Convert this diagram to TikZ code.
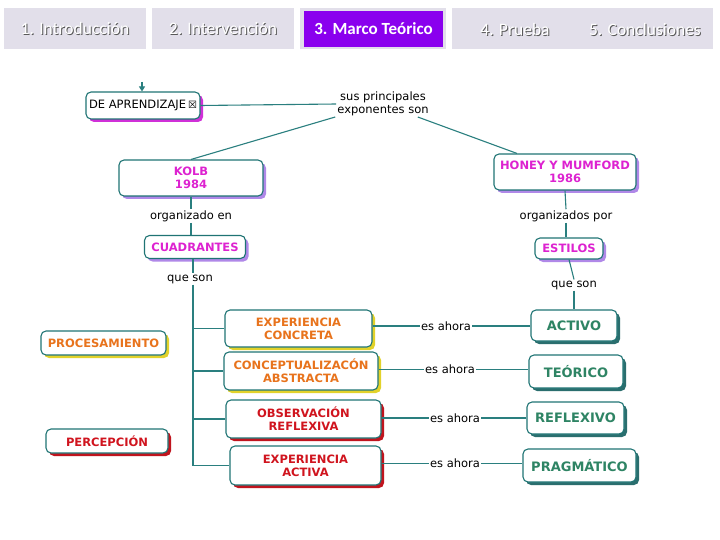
\documentclass[tikz,border=0pt]{standalone}
\usepackage{fontspec}
\setmainfont{DejaVu Sans}
\newfontfamily\tabfont{Carlito}
\usetikzlibrary{shadows,arrows.meta,calc}
\definecolor{tealb}{HTML}{1F7474}
\definecolor{teall}{HTML}{2A7F7F}
\definecolor{mag}{HTML}{DD22D0}
\definecolor{orng}{HTML}{E8731C}
\definecolor{redt}{HTML}{D0141E}
\definecolor{grnt}{HTML}{2E8464}
\definecolor{shmag}{HTML}{D030D8}
\definecolor{shlav}{HTML}{B088E8}
\definecolor{shyel}{HTML}{E2D22A}
\definecolor{shred}{HTML}{C0141E}
\definecolor{shteal}{HTML}{2A6E6E}
\definecolor{tabbg}{HTML}{E2DFEA}
\definecolor{tabpur}{HTML}{8A00EE}
\tikzset{
  box/.style={draw=tealb, line width=1.1pt, rounded corners=5pt, fill=white,
    align=center, font=\fontsize{11.5}{13}\selectfont\bfseries, inner sep=2pt},
  shm/.style={drop shadow={fill=shmag, opacity=1, shadow xshift=3pt, shadow yshift=-3pt}},
  shl/.style={drop shadow={fill=shlav, opacity=1, shadow xshift=3pt, shadow yshift=-3pt}},
  shy/.style={drop shadow={fill=shyel, opacity=1, shadow xshift=3pt, shadow yshift=-3pt}},
  shr/.style={drop shadow={fill=shred, opacity=1, shadow xshift=3pt, shadow yshift=-3pt}},
  sht/.style={drop shadow={fill=shteal, opacity=1, shadow xshift=3pt, shadow yshift=-3pt}},
  grn/.style={text=grnt, font=\fontsize{13}{15}\selectfont\bfseries},
  lbl/.style={align=center, inner sep=1pt, font=\fontsize{11.5}{12.5}\selectfont, text=black},
  conn/.style={draw=teall, line width=1.1pt},
  tabbox/.style={fill=tabbg, draw=none, inner sep=0pt},
  tabtxt/.style={font=\tabfont\fontsize{17.5}{19}\selectfont, text=white, inner sep=0pt},
  tabsh/.style={font=\tabfont\fontsize{17.5}{19}\selectfont, text=black!65, inner sep=0pt}
}
\begin{document}
\begin{tikzpicture}[x=1pt,y=-1pt]
\useasboundingbox (0,0) rectangle (720,540);
\fill[white] (0,0) rectangle (720,540);
% tabs
\node[tabbox, minimum width=142pt, minimum height=41pt] (t1) at (75,28.5) {};
\node[tabbox, minimum width=142pt, minimum height=41pt] (t2) at (223,28.5) {};
\node[tabbox, minimum width=146pt, minimum height=41pt] (t3) at (373,28.5) {};
\node[fill=tabpur, inner sep=0pt, minimum width=139pt, minimum height=36pt] (t3i) at (373.5,29) {};
\node[tabbox, minimum width=261pt, minimum height=41pt] (t45) at (582.5,28.5) {};
\node[tabsh] at ($(t1)+(1,1)$) {1. Introducción};
\node[tabtxt] (t1t) at (t1) {1. Introducción};
\node[tabsh] at ($(t2)+(1,1)$) {2. Intervención};
\node[tabtxt] (t2t) at (t2) {2. Intervención};
\node[tabtxt, font=\tabfont\bfseries\fontsize{17}{19}\selectfont] (t3t) at (t3i) {3. Marco Teórico};
\node[tabsh] at (516,30) {4. Prueba};
\node[tabtxt] (t4t) at (515,29) {4. Prueba};
\node[tabsh] at (646,30) {5. Conclusiones};
\node[tabtxt] (t5t) at (645,29) {5. Conclusiones};

% boxes
\node[box, shm, minimum width=114pt, minimum height=27pt, font=\fontsize{11.5}{13}\selectfont] (dea) at (143,105.5) {DE APRENDIZAJE\,{\fontsize{10}{10}\selectfont ☒}};
\node[box, shl, text=mag, minimum width=144pt, minimum height=36pt] (kolb) at (191,178) {KOLB\\1984};
\node[box, shl, text=mag, minimum width=101pt, minimum height=23pt] (cuad) at (195,247) {CUADRANTES};
\node[box, shl, text=mag, minimum width=142pt, minimum height=36pt] (honey) at (565,172) {HONEY Y MUMFORD\\1986};
\node[box, shl, text=mag, minimum width=68pt, minimum height=21pt] (estilos) at (569,248.5) {ESTILOS};
\node[box, shy, text=orng, minimum width=147pt, minimum height=37pt] (ec) at (298.5,328.5) {EXPERIENCIA\\CONCRETA};
\node[box, shy, text=orng, minimum width=154pt, minimum height=38pt] (ca) at (301,371) {CONCEPTUALIZACÓN\\ABSTRACTA};
\node[box, shr, text=redt, minimum width=155pt, minimum height=38pt] (orf) at (303.5,419) {OBSERVACIÓN\\REFLEXIVA};
\node[box, shr, text=redt, minimum width=151pt, minimum height=39pt] (ea) at (305.5,465.5) {EXPERIENCIA\\ACTIVA};
\node[box, shy, text=orng, minimum width=125pt, minimum height=24pt] (proc) at (103.5,343) {PROCESAMIENTO};
\node[box, shr, text=redt, minimum width=122pt, minimum height=24pt] (perc) at (107,441) {PERCEPCIÓN};
\node[box, sht, grn, minimum width=86pt, minimum height=31pt] (activo) at (574,325.5) {ACTIVO};
\node[box, sht, grn, minimum width=94pt, minimum height=33pt] (teorico) at (576,371.5) {TEÓRICO};
\node[box, sht, grn, minimum width=97pt, minimum height=32pt] (reflexivo) at (575.5,418) {REFLEXIVO};
\node[box, sht, grn, minimum width=113pt, minimum height=33pt] (pragm) at (579.5,465.5) {PRAGMÁTICO};

% labels
\node[lbl] (exp) at (383,104) {sus principales\\exponentes son};
\node[lbl] (orgen) at (191,216) {organizado en};
\node[lbl] (qs1) at (190,279) {que son};
\node[lbl] (orgpor) at (566,216) {organizados por};
\node[lbl] (qs2) at (574,285) {que son};
\node[lbl] (ea1) at (446,326) {es ahora};
\node[lbl] (ea2) at (450,369.5) {es ahora};
\node[lbl] (ea3) at (455,418) {es ahora};
\node[lbl] (ea4) at (455,463.5) {es ahora};

% connectors
\coordinate (arrtop) at (142,82);
\draw[conn, -{Triangle[length=5pt,width=6pt]}] (arrtop) -- (arrtop |- dea.north);
\draw[conn] (dea.east) -- (exp.west);
\draw[conn] ([xshift=-1pt]exp.south west) -- (kolb.north);
\draw[conn] ([xshift=-12pt]exp.south east) -- ([xshift=-48pt]honey.north);
\draw[conn] (kolb.south) -- (orgen.north);
\draw[conn] (orgen.south) -- (orgen.south |- cuad.north);
\coordinate (trk) at (193,258);
\draw[conn] (trk |- cuad.south) -- (trk |- qs1.north);
\draw[conn] (trk |- qs1.south) -- (trk |- ea.west);
\draw[conn] (trk |- ec.west) -- (ec.west);
\draw[conn] (trk |- ca.west) -- (ca.west);
\draw[conn] (trk |- orf.west) -- (orf.west);
\draw[conn] (trk |- ea.west) -- (ea.west);
\draw[conn] (honey.south) -- (orgpor.north);
\draw[conn] (orgpor.south) -- (orgpor.south |- estilos.north);
\draw[conn] (estilos.south) -- (qs2.north);
\draw[conn] (qs2.south) -- (qs2.south |- activo.north);
\draw[conn] (ec.east |- ea1) -- (ea1.west);
\draw[conn] (ea1.east) -- (activo.west |- ea1);
\draw[conn] (ca.east |- ea2) -- (ea2.west);
\draw[conn] (ea2.east) -- (teorico.west |- ea2);
\draw[conn] (orf.east |- ea3) -- (ea3.west);
\draw[conn] (ea3.east) -- (reflexivo.west |- ea3);
\draw[conn] (ea.east |- ea4) -- (ea4.west);
\draw[conn] (ea4.east) -- (pragm.west |- ea4);
\end{tikzpicture}
\end{document}
